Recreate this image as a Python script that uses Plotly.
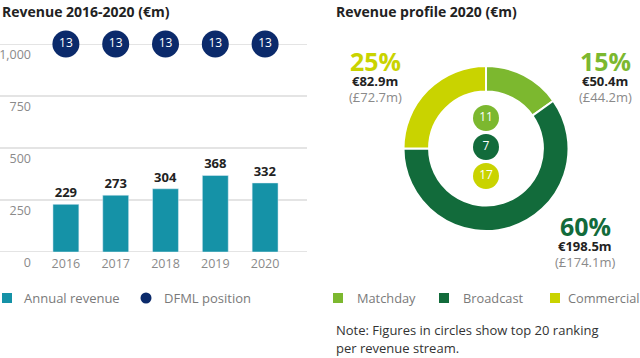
import plotly.graph_objects as go

W, H = 640, 358
FONT = "Open Sans"

# ---- data: left chart ----
years = ["2016", "2017", "2018", "2019", "2020"]
revenue = [229, 273, 304, 368, 332]
dfml_position = [13, 13, 13, 13, 13]
y_ticks = [0, 250, 500, 750, 1000]
y_tick_labels = ["0", "250", "500", "750", "1,000"]
left_legend = ["Annual revenue", "DFML position"]

# ---- data: right chart ----
streams = ["Matchday", "Broadcast", "Commercial"]
stream_values = [50.4, 198.5, 82.9]
stream_pct = ["15%", "60%", "25%"]
stream_eur = ["€50.4m", "€198.5m", "€82.9m"]
stream_gbp = ["(£44.2m)", "(£174.1m)", "(£72.7m)"]
stream_rank = [11, 7, 17]

TEAL = "#1592a7"
NAVY = "#0b2a6b"
stream_colors = ["#7cb82f", "#126b3b", "#c9d300"]
GRID = "#c9c9c9"
TICK = "#8a8a8a"
DARK = "#222222"


def fx(p):
    return p / W


def fy(p):
    return 1 - p / H


fig = go.Figure()

fig.add_trace(go.Bar(
    x=years, y=revenue, marker_color=TEAL, width=0.52,
    text=revenue, textposition="outside", cliponaxis=False,
    textfont=dict(family=FONT, size=13, color=DARK, weight="bold"),
    xaxis="x", yaxis="y", showlegend=False, hoverinfo="x+y",
))
fig.add_trace(go.Scatter(
    x=years, y=[y_ticks[-1]] * len(years), mode="markers+text",
    marker=dict(size=27, color=NAVY), text=dfml_position,
    textposition="middle center", cliponaxis=False,
    textfont=dict(family=FONT, size=12, color="white"),
    xaxis="x", yaxis="y", showlegend=False,
))

fig.add_trace(go.Pie(
    labels=streams, values=stream_values, hole=0.69, sort=False,
    direction="clockwise", rotation=0, textinfo="none", showlegend=False,
    marker=dict(colors=stream_colors, line=dict(color="white", width=2)),
    domain=dict(x=[fx(403.5), fx(568.5)], y=[fy(231), fy(66)]),
))

fig.add_trace(go.Scatter(
    x=[0, 0, 0], y=streams, mode="markers+text",
    marker=dict(size=26, color=stream_colors), text=stream_rank,
    textposition="middle center", cliponaxis=False,
    textfont=dict(family=FONT, size=12, color="white"),
    xaxis="x2", yaxis="y2", showlegend=False,
))

shapes = []
for v in y_ticks:
    shapes.append(dict(type="line", xref="paper", yref="y", x0=0, x1=fx(307),
                       y0=v, y1=v, line=dict(color=GRID, width=1), layer="below"))

annotations = []
annotations.append(dict(text="<b>Revenue 2016-2020 (€m)</b>", x=0, y=fy(12), xref="paper", yref="paper",
                        xanchor="left", yanchor="middle", showarrow=False,
                        font=dict(family=FONT, size=14, color=DARK)))
annotations.append(dict(text="<b>Revenue profile 2020 (€m)</b>", x=fx(334), y=fy(12), xref="paper", yref="paper",
                        xanchor="left", yanchor="middle", showarrow=False,
                        font=dict(family=FONT, size=14, color=DARK)))

# left legend
shapes.append(dict(type="rect", xref="paper", yref="paper", x0=fx(2), x1=fx(12), y0=fy(303), y1=fy(293),
                   fillcolor=TEAL, line=dict(width=0)))
shapes.append(dict(type="circle", xref="paper", yref="paper", x0=fx(140.5), x1=fx(151.5), y0=fy(303.5), y1=fy(292.5),
                   fillcolor=NAVY, line=dict(width=0)))
for txt, x in zip(left_legend, [22, 162]):
    annotations.append(dict(text=txt, x=fx(x), y=fy(298), xref="paper", yref="paper",
                            xanchor="left", yanchor="middle", showarrow=False,
                            font=dict(family=FONT, size=13, color="#7a7a7a")))

# right legend
for name, col, sx, tx in zip(streams, stream_colors, [333, 439, 550], [355, 461, 566]):
    shapes.append(dict(type="rect", xref="paper", yref="paper", x0=fx(sx), x1=fx(sx + 10), y0=fy(303), y1=fy(293),
                       fillcolor=col, line=dict(width=0)))
    annotations.append(dict(text=name, x=fx(tx), y=fy(298), xref="paper", yref="paper",
                            xanchor="left", yanchor="middle", showarrow=False,
                            font=dict(family=FONT, size=12.8, color="#7a7a7a")))

# donut labels
label_pos = [(605, 61), (585, 226), (375, 61)]
for pct, eur, gbp, col, (cx, cy) in zip(stream_pct, stream_eur, stream_gbp, stream_colors, label_pos):
    annotations.append(dict(text="<b>%s</b>" % pct, x=fx(cx), y=fy(cy), xref="paper", yref="paper",
                            xanchor="center", yanchor="middle", showarrow=False,
                            font=dict(family=FONT, size=25, color=col)))
    annotations.append(dict(text="<b>%s</b>" % eur, x=fx(cx), y=fy(cy + 20), xref="paper", yref="paper",
                            xanchor="center", yanchor="middle", showarrow=False,
                            font=dict(family=FONT, size=13, color=DARK)))
    annotations.append(dict(text=gbp, x=fx(cx), y=fy(cy + 36), xref="paper", yref="paper",
                            xanchor="center", yanchor="middle", showarrow=False,
                            font=dict(family=FONT, size=13, color="#8a8a8a")))

note_lines = ["Note: Figures in circles show top 20 ranking", "per revenue stream."]
for i, line in enumerate(note_lines):
    annotations.append(dict(text=line, x=fx(334), y=fy(330 + 18 * i), xref="paper", yref="paper",
                            xanchor="left", yanchor="middle", showarrow=False,
                            font=dict(family=FONT, size=13, color="#333333")))

fig.update_layout(
    width=W, height=H, autosize=False,
    margin=dict(l=0, r=0, t=0, b=0, pad=0, autoexpand=False),
    paper_bgcolor="white", plot_bgcolor="white",
    font=dict(family=FONT),
    xaxis=dict(domain=[fx(41), fx(290)], type="category", range=[-0.5, 4.5], automargin=False,
               showgrid=False, zeroline=False, showline=False, ticks="",
               tickfont=dict(family=FONT, size=12.5, color=TICK), anchor="y",
               ticklabelstandoff=2),
    yaxis=dict(domain=[fy(252), fy(44)], range=[0, 1000], tickvals=y_ticks, ticktext=y_tick_labels,
               showgrid=False, zeroline=False, showline=False, ticks="", automargin=False,
               tickfont=dict(family=FONT, size=12.5, color=TICK),
               ticklabelshift=11, ticklabelstandoff=9, anchor="x"),
    xaxis2=dict(domain=[fx(476), fx(496)], range=[-1, 1], visible=False, anchor="y2", automargin=False),
    yaxis2=dict(domain=[fy(190.5), fy(103.5)], type="category", categoryarray=streams, automargin=False,
                categoryorder="array", range=[2.5, -0.5], visible=False, anchor="x2"),
    shapes=shapes, annotations=annotations,
)

fig.write_html(
    "out.html",
    config={"displayModeBar": False, "responsive": False},
    post_script="document.body.style.margin='0';document.body.style.overflow='hidden';",
)
